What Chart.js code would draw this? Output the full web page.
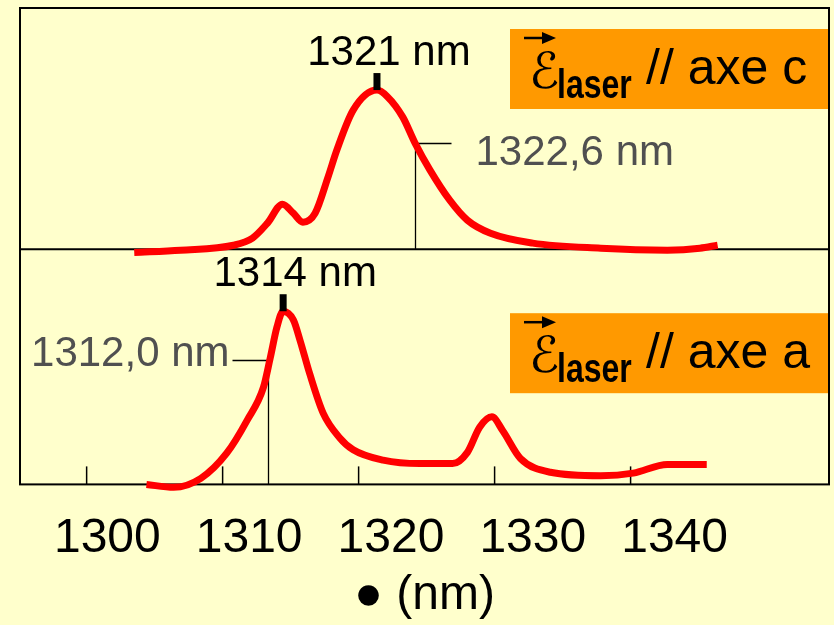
<!DOCTYPE html>
<html>
<head>
<meta charset="utf-8">
<title>Spectres laser</title>
<script src="https://cdn.jsdelivr.net/npm/chart.js@4.4.1/dist/chart.umd.min.js"></script>
<style>
  html, body { margin: 0; padding: 0; background: #FFFFCC; }
  canvas { display: block; }
</style>
</head>
<body>
<canvas id="chart" width="834" height="625"></canvas>
<script>
// === Data ===
// top panel : laser // axe c
const topNm  = [1303.5, 1306.9, 1310.8, 1312.2, 1313.3, 1314.4, 1315.2, 1315.9, 1316.8, 1317.75, 1318.4, 1319.6, 1321.35,
                1322.1, 1323.25, 1324.15, 1325.25, 1326.7, 1328.0, 1329.7, 1332.8, 1337.8, 1342.7, 1345.1, 1346.4];
const topInt = [-0.02, -0.006, 0.025, 0.07, 0.164, 0.283, 0.226, 0.17, 0.226, 0.453, 0.623, 0.874, 1.0,
                0.96, 0.83, 0.667, 0.497, 0.308, 0.182, 0.10, 0.038, 0.006, -0.006, 0.006, 0.025];

// bottom panel : laser // axe a
const botNm  = [1304.4, 1306.4, 1308.4, 1310.3, 1311.8, 1313.0, 1313.5, 1314.0, 1314.45, 1315.2, 1315.7, 1316.4, 1317.4,
                1318.6, 1319.6, 1321.8, 1324.5, 1326.9, 1328.0, 1328.9, 1329.8, 1330.6, 1331.9, 1334.1, 1337.8, 1340.2, 1342.7, 1345.6];
const botInt = [0, -0.017, 0.035, 0.18, 0.37, 0.56, 0.73, 0.91, 1.0, 0.95, 0.83, 0.64, 0.41,
                0.27, 0.20, 0.14, 0.12, 0.12, 0.185, 0.33, 0.39, 0.31, 0.15, 0.07, 0.05, 0.065, 0.115, 0.115];

const xTicks = [1300, 1310, 1320, 1330, 1340];
const axisTitle = "\u25CF (nm)";

// peak markers and width markers, index 0 = top panel, 1 = bottom panel
const peakNm = [1321.35, 1314.45];
const peakLabels = ["1321 nm", "1314 nm"];
const edgeNm = [1324.15, 1313.3];
const edgeInt = [0.667, 0.72];
const edgeLabels = ["1322,6 nm", "1312,0 nm"];
const boxAxes = ["c", "a"];

const FONT = '"Liberation Sans", Arial, sans-serif';

function toPoints(xs, ys) {
  return xs.map((v, i) => ({ x: v, y: ys[i] }));
}

function line(ctx, x1, y1, x2, y2) {
  ctx.beginPath();
  ctx.moveTo(x1, y1);
  ctx.lineTo(x2, y2);
  ctx.stroke();
}

// === Frame, ticks, leaders, boxes ===
const panelPlugin = {
  id: "panels",
  beforeDatasetsDraw(chart) {
    const { ctx, chartArea: a, scales } = chart;
    const x = scales.x;
    const yDiv = scales.yTop.getPixelForValue(0);
    const bases = [yDiv, a.bottom];
    const yAxes = [scales.yTop, scales.yBot];

    ctx.save();
    ctx.strokeStyle = "#000";
    ctx.lineWidth = 2;
    ctx.strokeRect(a.left, a.top, a.right - a.left, a.bottom - a.top);
    line(ctx, a.left, yDiv, a.right, yDiv);

    // small ticks inside the bottom panel
    ctx.lineWidth = 1.5;
    xTicks.forEach(v => {
      const px = x.getPixelForValue(v);
      line(ctx, px, a.bottom, px, a.bottom - 18);
    });

    // width leaders
    edgeNm.forEach((v, i) => {
      const px = Math.round(x.getPixelForValue(v)) + 0.5;
      const py = Math.round(yAxes[i].getPixelForValue(edgeInt[i])) + 0.5;
      const side = i === 0 ? 1 : -1;
      ctx.lineWidth = 1.3;
      line(ctx, px, py, px, bases[i]);
      line(ctx, px, py, px + side * 36, py);

      ctx.fillStyle = "#505050";
      ctx.font = "42px " + FONT;
      ctx.textBaseline = "middle";
      if (side > 0) {
        ctx.textAlign = "left";
        ctx.fillText(edgeLabels[i], px + 60, py + 10);
      } else {
        ctx.textAlign = "right";
        ctx.fillText(edgeLabels[i], px - 39, py - 6);
      }
    });
    ctx.restore();
  },

  afterDatasetsDraw(chart) {
    const { ctx, chartArea: a, scales } = chart;
    const x = scales.x;
    const yDiv = scales.yTop.getPixelForValue(0);
    const yAxes = [scales.yTop, scales.yBot];
    const peaks = [Math.max(...topInt), Math.max(...botInt)];

    ctx.save();
    // peak markers + labels
    peakNm.forEach((v, i) => {
      const px = x.getPixelForValue(v);
      const py = yAxes[i].getPixelForValue(peaks[i]);
      ctx.fillStyle = "#000";
      ctx.fillRect(px - 3.5, py - 17, 7, 17);
      ctx.font = "42px " + FONT;
      ctx.textAlign = "center";
      ctx.textBaseline = "alphabetic";
      ctx.fillText(peakLabels[i], px + 12, py - 25);
    });

    // orange polarisation boxes
    const boxTops = [a.top + 21, yDiv + 64];
    const boxW = 318, boxH = 80;
    boxAxes.forEach((ax, i) => {
      const bx = a.right - boxW - 1;
      const by = boxTops[i];
      ctx.fillStyle = "#FF9900";
      ctx.fillRect(bx, by, boxW, boxH);

      ctx.fillStyle = "#000";
      ctx.strokeStyle = "#000";
      ctx.textAlign = "left";
      ctx.textBaseline = "alphabetic";

      // vector arrow
      ctx.lineWidth = 2.5;
      line(ctx, bx + 14, by + 9, bx + 34, by + 9);
      ctx.beginPath();
      ctx.moveTo(bx + 46, by + 9);
      ctx.lineTo(bx + 32, by + 3);
      ctx.lineTo(bx + 32, by + 15);
      ctx.closePath();
      ctx.fill();

      ctx.font = '50px "DejaVu Serif", "DejaVu Sans", serif';
      ctx.fillText("\u2130", bx + 19, by + 59);

      // narrow bold subscript
      ctx.save();
      ctx.translate(bx + 47, by + 69);
      ctx.scale(0.8, 1);
      ctx.font = "bold 40px " + FONT;
      ctx.fillText("laser", 0, 0);
      ctx.restore();

      ctx.font = "50px " + FONT;
      ctx.fillText("// axe " + ax, bx + 136, by + 55);
    });
    ctx.restore();
  }
};

// === Chart ===
const ctx = document.getElementById("chart").getContext("2d");
new Chart(ctx, {
  type: "line",
  data: {
    datasets: [
      {
        label: "axe c",
        data: toPoints(topNm, topInt),
        yAxisID: "yTop",
        borderColor: "#FF0000",
        borderWidth: 7,
        pointRadius: 0,
        cubicInterpolationMode: "monotone",
        borderCapStyle: "butt",
        clip: false
      },
      {
        label: "axe a",
        data: toPoints(botNm, botInt),
        yAxisID: "yBot",
        borderColor: "#FF0000",
        borderWidth: 7,
        pointRadius: 0,
        cubicInterpolationMode: "monotone",
        borderCapStyle: "butt",
        clip: false
      }
    ]
  },
  options: {
    responsive: false,
    animation: false,
    devicePixelRatio: 1,
    layout: { padding: { left: 20, right: 5, top: 8, bottom: 0 } },
    plugins: {
      legend: { display: false },
      tooltip: { enabled: false }
    },
    scales: {
      x: { type: "linear", display: false, min: 1295.1, max: 1354.59 },
      xLab: {
        type: "linear",
        position: "bottom",
        min: 1293.84,
        max: 1350.89,
        grid: { display: false, drawTicks: false },
        border: { display: false },
        afterBuildTicks: s => { s.ticks = xTicks.map(v => ({ value: v })); },
        ticks: {
          autoSkip: false,
          maxRotation: 0,
          padding: 26,
          color: "#000",
          font: { family: FONT, size: 48, lineHeight: 1.2 },
          callback: v => String(v)
        },
        title: {
          display: true,
          text: axisTitle,
          color: "#000",
          font: { family: FONT, size: 48, lineHeight: 1 },
          padding: { top: -22, bottom: 5 }
        }
      },
      yTop: { display: false, min: -1.478, max: 1.5157 },
      yBot: { display: false, min: 0, max: 2.751 }
    }
  },
  plugins: [panelPlugin]
});
</script>
</body>
</html>
